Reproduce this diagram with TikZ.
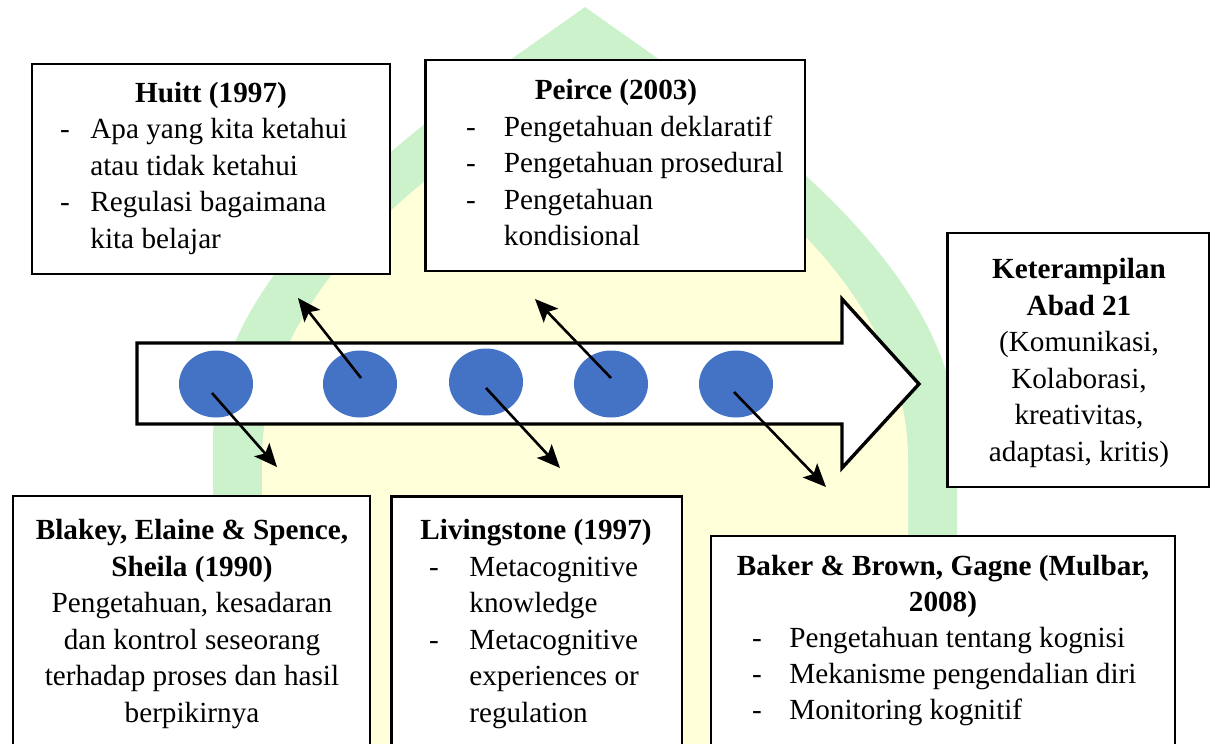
\documentclass[tikz,border=0pt]{standalone}
\usepackage{fontspec}
\setmainfont{LiberationSerif}[Extension=.ttf, UprightFont=*-Regular, BoldFont=*-Bold, ItalicFont=*-Italic, BoldItalicFont=*-BoldItalic]
\usetikzlibrary{shapes.geometric,arrows.meta,fit}
\definecolor{wmgreen}{RGB}{204,242,204}
\definecolor{wmyellow}{RGB}{255,255,217}
\definecolor{dotblue}{RGB}{68,114,196}
\newcommand\fs{\fontsize{14.6}{18.25}\selectfont}
\tikzset{
  boxst/.style={draw=black, fill=white, line width=1.3pt, inner sep=0pt},
  bigarrow/.style={draw=black, fill=white, line width=1.7pt, line join=miter},
  dotst/.style={ellipse, fill=dotblue, minimum width=37pt, minimum height=33.5pt, inner sep=0pt},
  conn/.style={line width=1.3pt, -{Stealth[length=11.5pt,width=10pt,inset=2.5pt]}},
  hd/.style={anchor=base, inner sep=0pt, font=\fs\bfseries},
  tc/.style={anchor=base, inner sep=0pt, font=\fs},
  tl/.style={anchor=base west, inner sep=0pt, font=\fs},
  dsh/.style={anchor=base, inner sep=0pt, font=\fs}
}
\begin{document}
\begin{tikzpicture}[x=0.5pt, y=-0.5pt]
\useasboundingbox (0,0) rectangle (1211,744);
\clip (0,0) rectangle (1211,744);
% watermark
\fill[wmgreen] (213,780) -- (213,440) .. controls (213,250) and (470,90) .. (585,7)
  .. controls (700,90) and (957,250) .. (957,440) -- (957,780) -- cycle;
\fill[wmyellow] (262,780) -- (262,460) .. controls (262,280) and (450,150) .. (585,75)
  .. controls (720,150) and (908,280) .. (908,460) -- (908,780) -- cycle;
% boxes
\node[boxst, fit={(32,64) (390,274)}] (huitt) {};
\node[boxst, fit={(425.5,60) (805,271)}] (peirce) {};
\node[boxst, fit={(947.5,233) (1209,487)}] (ket) {};
\node[boxst, fit={(13,496) (370,770)}] (blakey) {};
\node[boxst, fit={(391.5,496.5) (682,770)}] (living) {};
\node[boxst, fit={(711,536) (1175,770)}] (baker) {};
% big arrow
\path[bigarrow] (137,343) -- (842,343) -- (842,299) -- (919,384) -- (842,468) -- (842,424) -- (137,424) -- cycle;
% dots
\node[dotst] (c1) at (216,384) {};
\node[dotst] (c2) at (360,384) {};
\node[dotst] (c3) at (486,382) {};
\node[dotst] (c4) at (611,384) {};
\node[dotst] (c5) at (736,384) {};
% connector coordinates
\coordinate (s1) at (212,393); \coordinate (e1) at (277,467);
\coordinate (s2) at (361,378); \coordinate (e2) at (298,298);
\coordinate (s3) at (486,388); \coordinate (e3) at (560,468);
\coordinate (s4) at (611,378); \coordinate (e4) at (535,299);
\coordinate (s5) at (734,392); \coordinate (e5) at (826,487);
\draw[conn] (s1) -- (e1);
\draw[conn] (s2) -- (e2);
\draw[conn] (s3) -- (e3);
\draw[conn] (s4) -- (e4);
\draw[conn] (s5) -- (e5);
% Huitt text
\node[hd] (h0) at (211,102) {Huitt (1997)};
\node[dsh] (hd1) at (65,138.5) {-};
\node[tl] (h1) at (90,138.5) {Apa yang kita ketahui};
\node[tl] (h2) at (90,175) {atau tidak ketahui};
\node[dsh] (hd2) at (65,211.5) {-};
\node[tl] (h3) at (90,211.5) {Regulasi bagaimana};
\node[tl] (h4) at (90,248) {kita belajar};
% Peirce text
\node[hd] (p0) at (616,99.7) {Peirce (2003)};
\node[dsh] (pd1) at (471,136) {-};
\node[tl] (p1) at (503.5,136) {Pengetahuan deklaratif};
\node[dsh] (pd2) at (471,172.5) {-};
\node[tl] (p2) at (503.5,172.5) {Pengetahuan prosedural};
\node[dsh] (pd3) at (471,209) {-};
\node[tl] (p3) at (503.5,209) {Pengetahuan};
\node[tl] (p4) at (503.5,245.5) {kondisional};
% Keterampilan text
\node[hd] (k0) at (1079,278.5) {Keterampilan};
\node[hd] (k1) at (1079,315) {Abad 21};
\node[tc] (k2) at (1079,351.5) {(Komunikasi,};
\node[tc] (k3) at (1079,388) {Kolaborasi,};
\node[tc] (k4) at (1079,424.5) {kreativitas,};
\node[tc] (k5) at (1079,461) {adaptasi, kritis)};
% Blakey text
\node[hd] (b0) at (192,539.5) {Blakey, Elaine \& Spence,};
\node[hd] (b1) at (192,576) {Sheila (1990)};
\node[tc] (b2) at (192,612.5) {Pengetahuan, kesadaran};
\node[tc] (b3) at (192,649) {dan kontrol seseorang};
\node[tc] (b4) at (192,685.5) {terhadap proses dan hasil};
\node[tc] (b5) at (192,722) {berpikirnya};
% Livingstone text
\node[hd] (l0) at (536,539.5) {Livingstone (1997)};
\node[dsh] (ld1) at (434,576) {-};
\node[tl] (l1) at (469,576) {Metacognitive};
\node[tl] (l2) at (469,612.5) {knowledge};
\node[dsh] (ld2) at (434,649) {-};
\node[tl] (l3) at (469,649) {Metacognitive};
\node[tl] (l4) at (469,685.5) {experiences or};
\node[tl] (l5) at (469,722) {regulation};
% Baker text
\node[hd] (a0) at (943,575) {Baker \& Brown, Gagne (Mulbar,};
\node[hd] (a1) at (943,611) {2008)};
\node[dsh] (ad1) at (757,647.5) {-};
\node[tl] (a2) at (789,647.5) {Pengetahuan tentang kognisi};
\node[dsh] (ad2) at (757,683.5) {-};
\node[tl] (a3) at (789,683.5) {Mekanisme pengendalian diri};
\node[dsh] (ad3) at (757,719.5) {-};
\node[tl] (a4) at (789,719.5) {Monitoring kognitif};
\end{tikzpicture}
\end{document}
